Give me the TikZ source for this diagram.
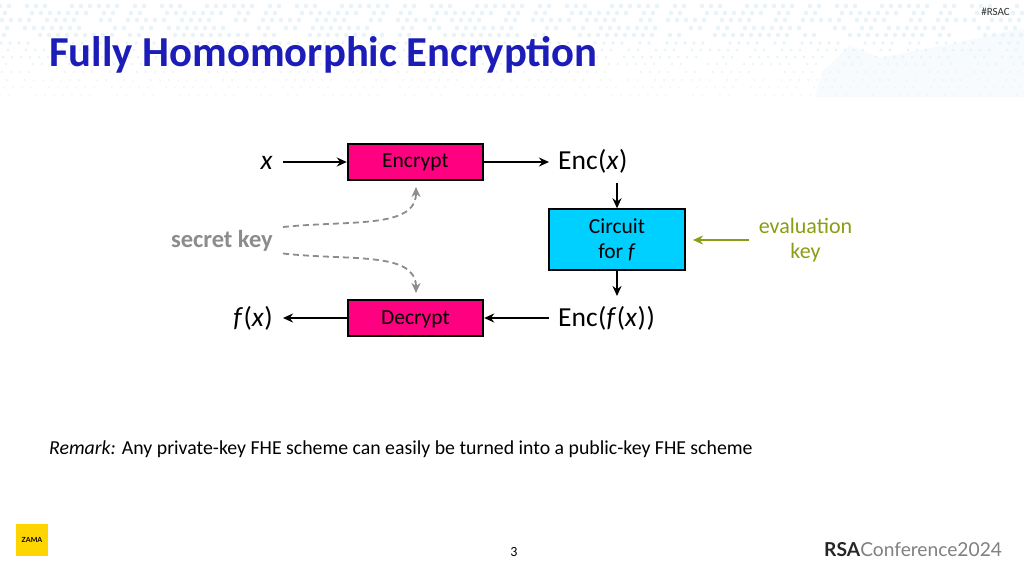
\documentclass[tikz,border=0pt]{standalone}
\usepackage{fontspec}
\setmainfont{Carlito}
\newfontfamily\logofont{Lato}
\usetikzlibrary{arrows.meta}
\definecolor{titleblue}{HTML}{1C1CB8}
\definecolor{boxpink}{HTML}{FF0080}
\definecolor{boxcyan}{HTML}{00D0FF}
\definecolor{keygray}{HTML}{8C8C8C}
\definecolor{evalgreen}{HTML}{8C9C14}
\definecolor{pale}{HTML}{E9F4FA}
\definecolor{palefill}{HTML}{F8FBFD}
\tikzset{
  x=1pt,y=-1pt,
  procbox/.style={draw=black,line width=1.9pt,minimum width=135.5pt,text=black,font=\fontsize{21.5}{26}\selectfont,align=center,inner sep=0pt},
  lbl/.style={inner sep=0pt,font=\fontsize{27.5}{33}\selectfont,text=black},
  flow/.style={line width=1.8pt,-{Stealth[length=10pt,width=9pt]},black},
  keyflow/.style={line width=1.8pt,dash pattern=on 6pt off 4pt,-{Stealth[length=10pt,width=9pt]},keygray},
  evalflow/.style={line width=1.8pt,-{Stealth[length=10pt,width=9pt]},evalgreen},
  dotrow/.style={pale,line cap=round}
}
\begin{document}
\begin{tikzpicture}
\useasboundingbox (0,0) rectangle (1024,576);
\fill[white] (0,0) rectangle (1024,576);
% pale shapes behind the dots
\fill[palefill] (815,97) -- (822,72) -- (850,45) -- (880,58) -- (960,42) -- (1024,28) -- (1024,97) -- cycle;
% dotted background band: rows of round dots that shrink downwards
\foreach \yy/\wd/\aa/\bb/\cc/\ph in {
  6/4.6/18/27/9/0, 13/4.6/27/9/18/4, 20/4.6/9/18/27/7, 28/4.6/18/9/36/2,
  35/4.4/36/9/9/5, 43/3.8/9/27/18/8, 50/3.4/18/18/9/1, 57/3/9/9/27/6,
  64/2.6/27/18/9/3, 72/2.2/9/36/18/7, 80/2/18/9/18/2, 87/1.8/9/18/9/5, 95/1.6/27/9/27/0}{
  \draw[dotrow,line width=\wd pt,dash pattern=on 0pt off 9pt on 0pt off \aa pt on 0pt off 9pt on 0pt off 9pt on 0pt off \bb pt on 0pt off 9pt on 0pt off 9pt on 0pt off 9pt on 0pt off \cc pt on 0pt off 9pt on 0pt off 18pt,dash phase=\ph pt] (0,\yy) -- (1024,\yy);
}
% title and small labels
\node[anchor=base west,inner sep=0pt,text=titleblue,font=\bfseries\fontsize{42.7}{50}\selectfont] (title) at (49,66) {Fully Homomorphic Encryption};
\node[anchor=base east,inner sep=0pt,font=\fontsize{11}{13}\selectfont,text=black!80] (tag) at (1010,15) {\#RSAC};
% process boxes
\node[procbox,fill=boxpink,minimum height=36pt] (encrypt) at (415.5,162) {\raisebox{-.5pt}[\height][\depth]{Encrypt}};
\node[procbox,fill=boxpink,minimum height=36pt] (decrypt) at (415.5,318) {\raisebox{-1pt}[\height][\depth]{Decrypt}};
\node[procbox,fill=boxcyan,minimum height=60.5pt,font=\fontsize{21.5}{25}\selectfont] (circuit) at (617,239.5) {Circuit\\for \textit{f}};
% formula labels
\node[lbl,anchor=base east] (x) at (273,169) {\textit{x}};
\node[lbl,anchor=base west] (encx) at (558,169) {Enc\kern.5pt(\textit{x}\kern.5pt)};
\node[lbl,anchor=base east] (fx) at (273,326) {\textit{f}\kern.5pt(\textit{x}\kern.5pt)};
\node[lbl,anchor=base west] (encfx) at (558,326) {Enc\kern.5pt(\textit{f}\kern.5pt(\textit{x}\kern.5pt)\kern.5pt)};
\node[anchor=base east,inner sep=0pt,text=keygray,font=\bfseries\fontsize{24.5}{29}\selectfont] (secret) at (273,247) {secret key};
\node[anchor=center,inner sep=0pt,align=center,text=evalgreen,font=\fontsize{22}{25}\selectfont] (eval) at (805.5,240) {evaluation\\key};
% connectors
\draw[flow,shorten <=10pt] (x.east |- encrypt.west) -- (encrypt.west);
\draw[flow,shorten >=9pt] (encrypt.east) -- (encx.west |- encrypt.east);
\draw[flow,shorten >=10pt] (decrypt.west) -- (fx.east |- decrypt.west);
\draw[flow,shorten <=9pt] (encfx.west |- decrypt.east) -- (decrypt.east);
\coordinate (cin) at (617,183);
\coordinate (cout) at (617,296);
\draw[flow] (cin) -- (circuit.north);
\draw[flow] (circuit.south) -- (cout);
\coordinate (evalstart) at (749,240);
\coordinate (evalend) at (693,240);
\draw[evalflow] (evalstart) -- (evalend);
\coordinate (skt) at (283,227);
\coordinate (skb) at (283,253.5);
\coordinate (enct) at (416,187);
\coordinate (dect) at (416,293);
\draw[keyflow] (skt) .. controls (350,220) and (416,229) .. (enct);
\draw[keyflow] (skb) .. controls (350,261) and (416,251) .. (dect);
% remark and footer
\node[anchor=base west,inner sep=0pt,text=black,font=\fontsize{19.8}{23}\selectfont] (remark) at (49,454) {\textit{Remark:} Any private-key FHE scheme can easily be turned into a public-key FHE scheme};
\node[inner sep=0pt,text=black,font=\fontsize{14}{16}\selectfont] (page) at (514,552) {3};
\node[fill={rgb,255:red,255;green,213;blue,0},minimum size=32pt,inner sep=0pt,font=\logofont\bfseries\fontsize{7}{8}\selectfont,text=black] (zama) at (32,540) {ZAMA};
\node[anchor=base west,inner sep=0pt,text=black!50] (rsa) at (824,556) {\logofont\fontsize{19.2}{24}\selectfont{\color{black!85}\textbf{RSA}}Conference2024};
\end{tikzpicture}
\end{document}
